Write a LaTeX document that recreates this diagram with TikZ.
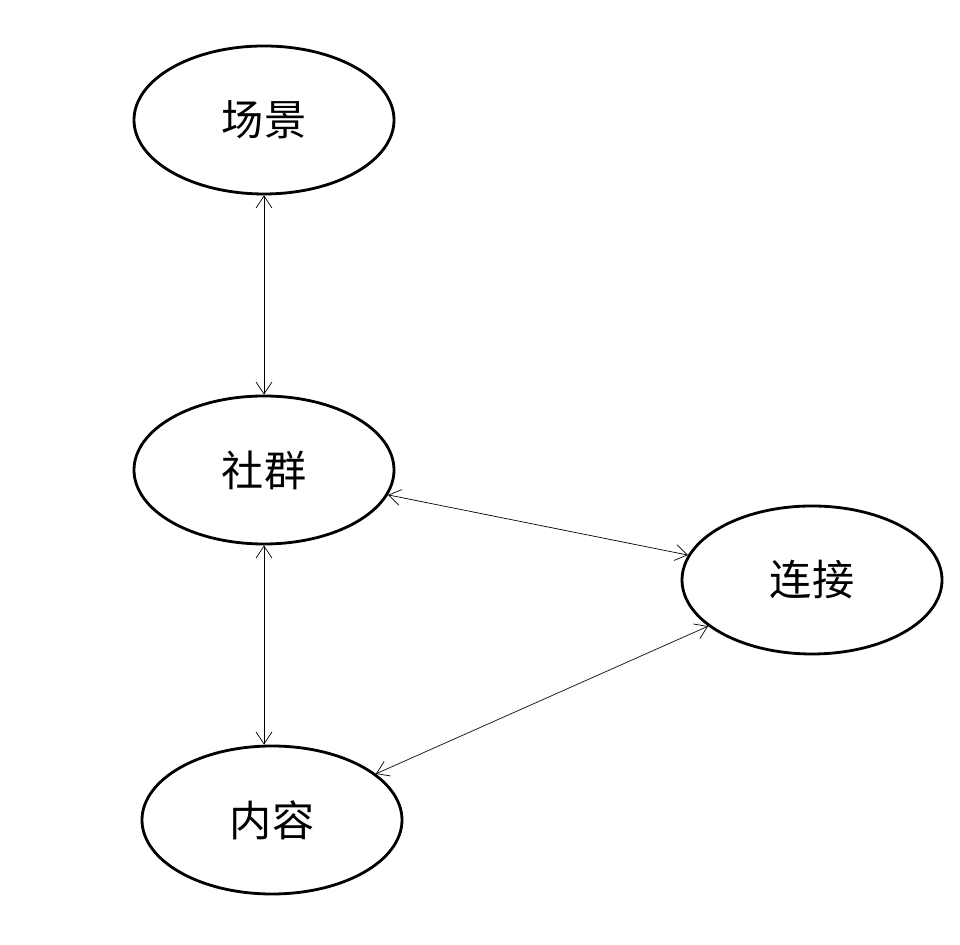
\documentclass[tikz,border=0pt]{standalone}
\usepackage{fontspec}
\newfontfamily\cjk{Noto Sans CJK SC}
\usetikzlibrary{arrows.meta, shapes.geometric}

\tikzset{
  topic/.style={ellipse, draw, line width=2pt, minimum width=6.5cm, minimum height=3.7cm, font=\cjk\fontsize{30}{36}\selectfont},
  link/.style={{Straight Barb[length=3mm,width=4mm]}-{Straight Barb[length=3mm,width=4mm]}, line width=0.5pt}
}

\begin{document}
\begin{tikzpicture}

  % Fix the page size
  \useasboundingbox (0,0) rectangle (24,23.625);

  % Topics
  \node[topic] (scene) at (6.6,20.625) {场景};
  \node[topic] (group) at (6.6,11.875) {社群};
  \node[topic] (link) at (20.3,9.125) {连接};
  \node[topic] (content) at (6.8,3.125) {内容};

  % Relations
  \draw[link] (scene) -- (group);
  \draw[link] (group.south) -- (group.south |- content.north);
  \draw[link] (group) -- (link);
  \draw[link] (link) -- (content);

\end{tikzpicture}
\end{document}
